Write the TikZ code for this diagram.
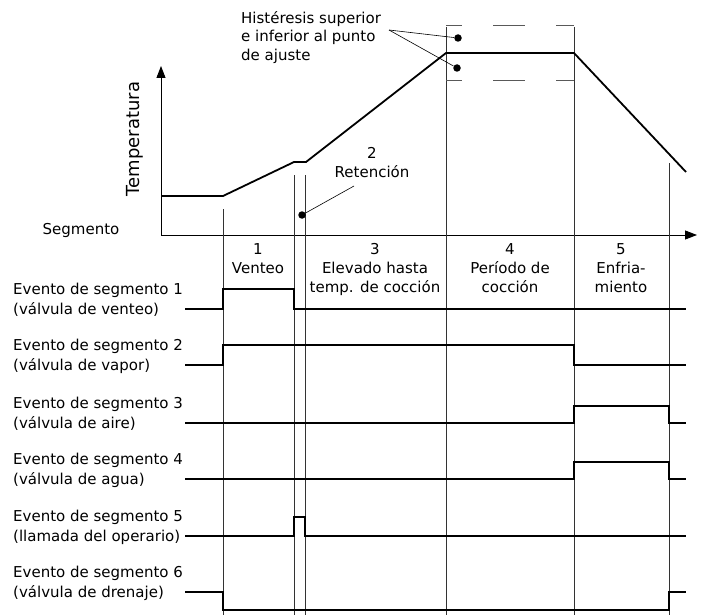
\documentclass[tikz,border=0pt]{standalone}
\usepackage{fontspec}
\setmainfont{DejaVu Sans}
\usetikzlibrary{arrows.meta, positioning}

\begin{document}
\begin{tikzpicture}[x=1pt, y=-1pt,
  axis/.style={line width=0.9pt, -{Triangle[length=12pt, width=9pt]}},
  divider/.style={line width=0.8pt, black!80},
  profile/.style={line width=1.8pt},
  signal/.style={line width=1.8pt},
  band/.style={line width=1pt, black!65, dash pattern=on 32pt off 31pt, dash phase=16pt},
  txt/.style={font=\fontsize{15}{19}\selectfont, inner sep=0pt},
  dot/.style={circle, fill=black, inner sep=0pt, minimum size=7.5pt},
  leader/.style={line width=0.6pt}
]
  \useasboundingbox (0,0) rectangle (701,615);

  % axes
  \coordinate (O) at (161,235);
  \coordinate (Ytop) at (161,66);
  \coordinate (Xend) at (697,235);
  \draw[axis] (O) -- (Ytop);
  \draw[axis] (O) -- (Xend);
  \node[txt, rotate=90, font=\fontsize{18}{19}\selectfont] (temp) at (135,139) {Temperatura};
  \node[txt] (seg) at (81,230) {Segmento};

  % segment borders
  \foreach \x/\y in {223/209, 294/175, 305/175, 446/27, 574/27, 669/163}
    \draw[divider] (\x,\y) -- (\x,615);

  % temperature profile
  \path (161,196) coordinate (p0) (223,196) coordinate (p1)
        (294,162) coordinate (p2) (306,162) coordinate (p3)
        (446,53) coordinate (p4) (574,53) coordinate (p5)
        (686,172) coordinate (p6);
  \draw[profile] (p0) -- (p1) -- (p2) -- (p3) -- (p4) -- (p5) -- (p6);

  % hysteresis band (base = last line)
  \draw[band] (446,26) -- (574,26);
  \draw[band] (446,81) -- (574,81);
  \node[txt, align=left, anchor=base west, font=\fontsize{15}{18.5}\selectfont] (hyst) at (241,60.5)
    {Histéresis superior\\e inferior al punto\\de ajuste};
  \node[dot] (hi) at (458,38) {};
  \node[dot] (lo) at (457,68) {};
  \coordinate (h0) at (389,30);
  \draw[leader] (h0) -- (hi);
  \draw[leader] (h0) -- (lo);

  % hold
  \node[txt, align=center, anchor=base] (hold) at (372,177) {2\\Retención};
  \node[dot] (hd) at (302,215) {};
  \coordinate (r0) at (354,186);
  \draw[leader] (r0) -- (hd);

  % segment names
  \foreach \i/\x/\y/\s in {1/258/273.5/{1\\Venteo}, 3/375/292.5/{3\\Elevado hasta\\temp. de cocción},
                        4/510/292.5/{4\\Período de\\cocción}, 5/621/292.5/{5\\Enfria-\\miento}}
    \node[txt, align=center, anchor=base] (s\i) at (\x,\y) {\s};

  % segment events
  \foreach \i/\y/\a/\b/\h/\t in {
      1/309/223/294/-20/{Evento de segmento 1\\(válvula de venteo)},
      2/365/223/574/-20/{Evento de segmento 2\\(válvula de vapor)},
      3/423/574/669/-17/{Evento de segmento 3\\(válvula de aire)},
      4/479/574/669/-17/{Evento de segmento 4\\(válvula de agua)},
      5/536/294/305/-19/{Evento de segmento 5\\(llamada del operario)},
      6/592/223/669/18/{Evento de segmento 6\\(válvula de drenaje)}}
  {
    \node[txt, align=left, anchor=base west, font=\fontsize{15}{20}\selectfont] (ev\i) at (13,\y+5) {\t};
    \coordinate (a\i) at (185,\y);
    \coordinate (b\i) at (686,\y);
    \draw[signal] (a\i) -| (\a,\y+\h) -| (\b,\y) -- (b\i);
  }
\end{tikzpicture}
\end{document}
